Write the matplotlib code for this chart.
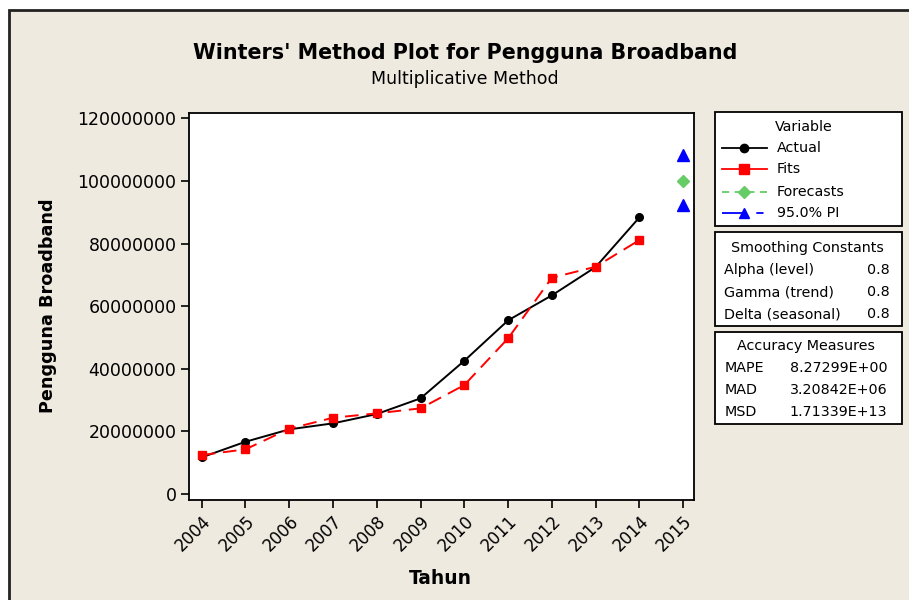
import matplotlib
matplotlib.use("Agg")
import matplotlib.pyplot as plt
from matplotlib.patches import Rectangle
from matplotlib.lines import Line2D
from matplotlib.ticker import FuncFormatter

# ---------------- data ----------------
years = [2004, 2005, 2006, 2007, 2008, 2009, 2010, 2011, 2012, 2013, 2014]
actual = [11.72e6, 16.70e6, 20.66e6, 22.58e6, 25.55e6, 30.57e6, 42.57e6,
          55.48e6, 63.46e6, 72.50e6, 88.37e6]
fits = [12.46e6, 14.28e6, 20.86e6, 24.37e6, 25.77e6, 27.37e6, 34.81e6,
        49.73e6, 69.08e6, 72.60e6, 81.12e6]
forecast_year = [2015]
forecast = [100.0e6]
pi_upper = [108.3e6]
pi_lower = [92.3e6]
xtick_labels = ["2004", "2005", "2006", "2007", "2008", "2009", "2010",
                "2011", "2012", "2013", "2014", "2015"]
yticks = [0, 20000000, 40000000, 60000000, 80000000, 100000000, 120000000]
smoothing_names = ["Alpha (level)", "Gamma (trend)", "Delta (seasonal)"]
smoothing_vals = ["0.8", "0.8", "0.8"]
accuracy_names = ["MAPE", "MAD", "MSD"]
accuracy_vals = ["8.27299E+00", "3.20842E+06", "1.71339E+13"]

W, H = 909, 600
BG = "#EEEAE0"
plt.rcParams['font.family'] = ['DejaVu Sans']

fig = plt.figure(figsize=(W / 100, H / 100), dpi=100)
fig.patch.set_facecolor("white")


def fx(x):
    return x / W


def fy(y):
    return 1 - y / H


# outer frame
fig.add_artist(Rectangle((fx(9), fy(H + 5)), fx(W + 10 - 9), (H + 5 - 10) / H,
                         transform=fig.transFigure, facecolor=BG,
                         edgecolor="#222222", linewidth=2, zorder=0))

left, right, top, bottom = 189, 693.7, 112.7, 500
ax = fig.add_axes([fx(left), fy(bottom), fx(right - left), (bottom - top) / H])
ax.set_facecolor("white")

ax.plot(years, actual, color="black", linewidth=1.4, marker="o",
        markersize=5.5, zorder=3)
ax.plot(years, fits, color="#FF0000", linewidth=1.4, linestyle=(0, (7, 4)),
        marker="s", markersize=6, zorder=4)
ax.plot(forecast_year, forecast, linestyle="none", marker="D",
        color="#66CC66", markersize=6, zorder=5)
ax.plot(forecast_year, pi_upper, linestyle="none", marker="^",
        color="#0000FF", markersize=8, zorder=5)
ax.plot(forecast_year, pi_lower, linestyle="none", marker="^",
        color="#0000FF", markersize=8, zorder=5)

ax.set_xlim(2003.71, 2015.24)
ax.set_ylim(-1.9e6, 121.8e6)
ax.set_xticks(list(range(2004, 2016)))
ax.set_xticklabels(xtick_labels, rotation=45, ha="right",
                   rotation_mode="anchor", fontsize=12)
ax.set_yticks(yticks)
ax.yaxis.set_major_formatter(FuncFormatter(lambda v, p: "%d" % int(round(v))))
ax.tick_params(axis="y", labelsize=12.5, length=6, width=1.2, pad=3,
               direction="out")
ax.tick_params(axis="x", length=6, width=1.2, pad=3, direction="out")
for s in ax.spines.values():
    s.set_linewidth(1.3)
    s.set_color("black")

# titles
fig.text(fx(465), fy(53), "Winters' Method Plot for Pengguna Broadband",
         ha="center", va="center", fontsize=14.9, fontweight="bold")
fig.text(fx(465), fy(79), "Multiplicative Method", ha="center", va="center",
         fontsize=12.5)
fig.text(fx(440), fy(578), "Tahun", ha="center", va="center",
         fontsize=13.4, fontweight="bold")
fig.text(fx(48), fy(306), "Pengguna Broadband", ha="center", va="center",
         rotation=90, fontsize=12.7, fontweight="bold")

# legend boxes
def box(y0, y1):
    fig.add_artist(Rectangle((fx(715), fy(y1)), fx(901.7 - 715), (y1 - y0) / H,
                             transform=fig.transFigure, facecolor="white",
                             edgecolor="black", linewidth=1.3, zorder=2))


box(111.7, 225.7)
box(232.3, 325.7)
box(332.3, 424.3)

fs = 10.3
fig.text(fx(804), fy(126.7), "Variable", ha="center", va="center", fontsize=fs)
leg = [("Actual", "black", "-", "o", 6, 148.3),
       ("Fits", "#FF0000", "-", "s", 6.5, 169.3),
       ("Forecasts", "#66CC66", (0, (4, 3)), "D", 6.5, 191.7),
       ("95.0% PI", "#0000FF", (0, (13, 6, 4, 4)), "^", 7.5, 213.3)]
for name, c, ls, mk, ms, yy in leg:
    fig.add_artist(Line2D([fx(722), fx(766.7)], [fy(yy), fy(yy)],
                          transform=fig.transFigure, color=c, linestyle=ls,
                          linewidth=1.3, zorder=3))
    fig.add_artist(Line2D([fx(743.5)], [fy(yy)], transform=fig.transFigure,
                          color=c, marker=mk, markersize=ms, linestyle="none",
                          zorder=4))
    fig.text(fx(776.7), fy(yy), name, ha="left", va="center", fontsize=fs)

fig.text(fx(807), fy(247.7), "Smoothing Constants", ha="center", va="center",
         fontsize=fs)
for i, (n, v) in enumerate(zip(smoothing_names, smoothing_vals)):
    yy = [270, 292.3, 314.3][i]
    fig.text(fx(724), fy(yy), n, ha="left", va="center", fontsize=fs)
    fig.text(fx(889.3), fy(yy), v, ha="right", va="center", fontsize=fs)

fig.text(fx(806), fy(345.7), "Accuracy Measures", ha="center", va="center",
         fontsize=fs)
for i, (n, v) in enumerate(zip(accuracy_names, accuracy_vals)):
    yy = [368.3, 390, 412.3][i]
    fig.text(fx(725), fy(yy), n, ha="left", va="center", fontsize=fs)
    fig.text(fx(887.3), fy(yy), v, ha="right", va="center", fontsize=fs)

fig.savefig("out.png", dpi=100, facecolor=fig.get_facecolor())
